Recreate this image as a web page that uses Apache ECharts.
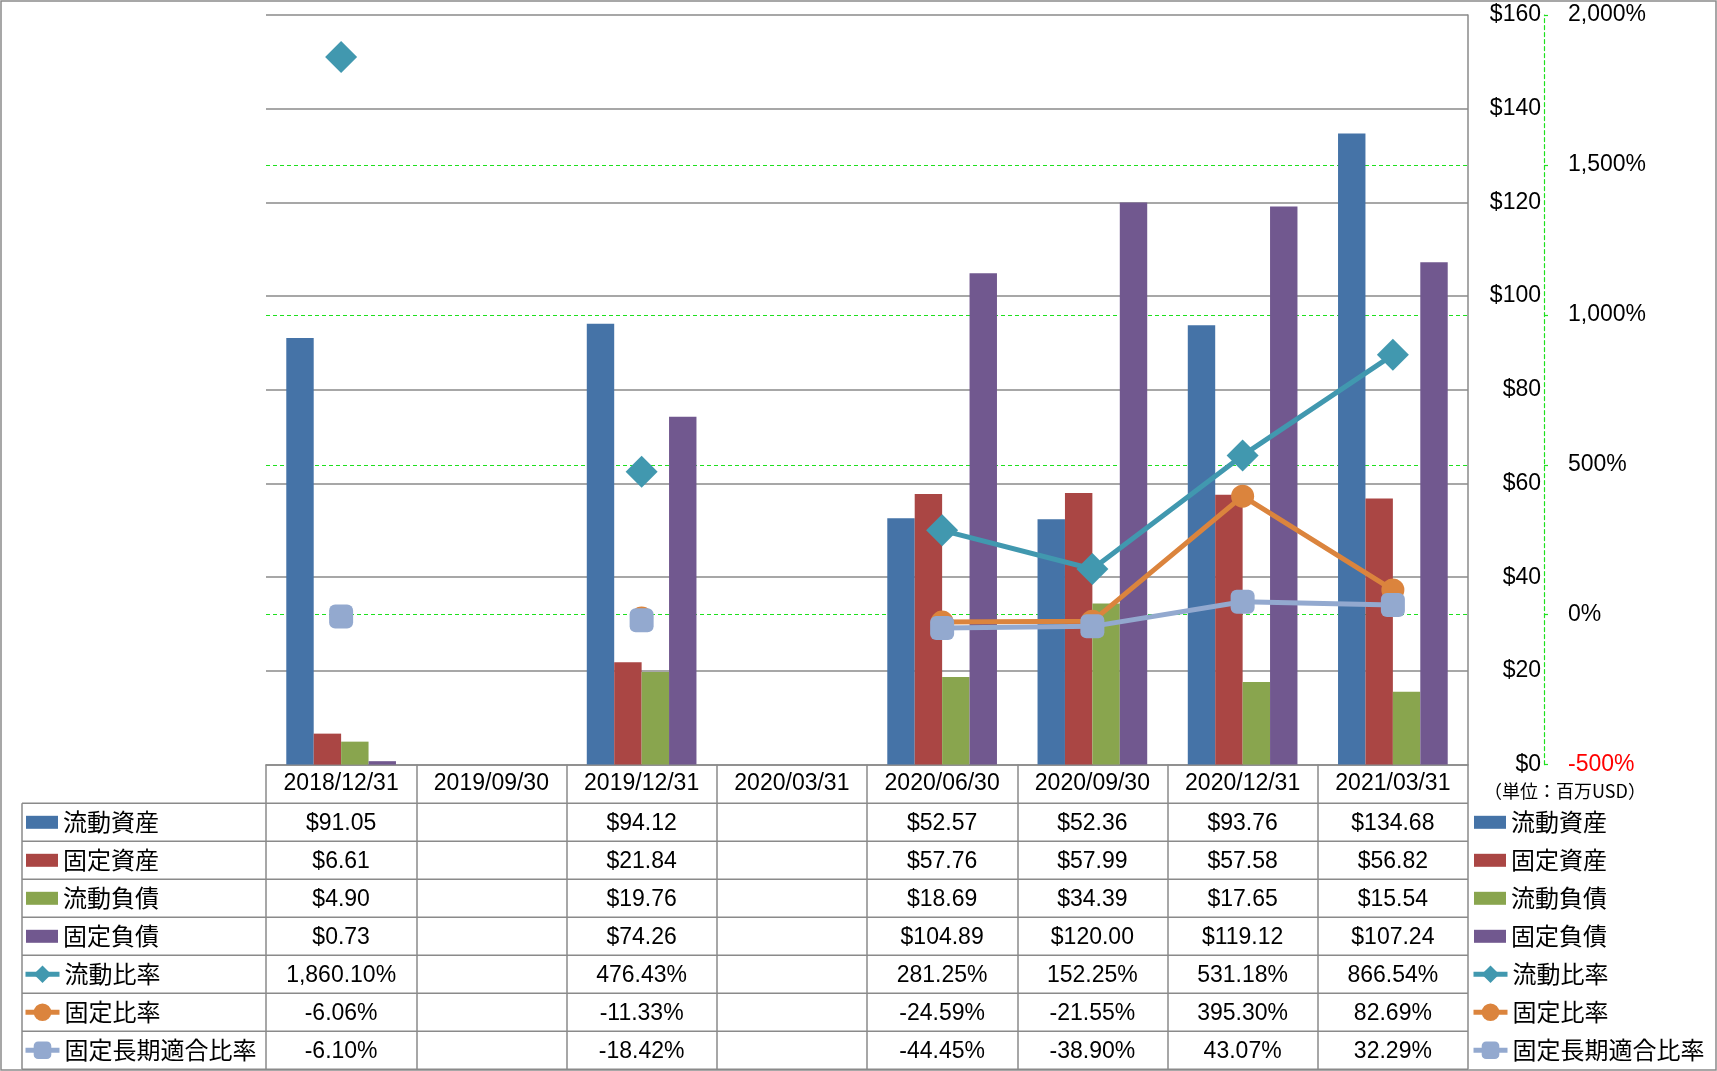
<!DOCTYPE html>
<html><head><meta charset="utf-8">
<script src="https://cdn.jsdelivr.net/npm/echarts@6/dist/echarts.min.js"></script>
<style>html,body{margin:0;padding:0;background:#fff}#c{width:1717px;height:1071px}</style>
</head><body><div id="c"></div>
<script>
const categories = ['2018/12/31','2019/09/30','2019/12/31','2020/03/31','2020/06/30','2020/09/30','2020/12/31','2021/03/31'];
const currentAssets      = [91.05, null, 94.12, null, 52.57, 52.36, 93.76, 134.68];
const fixedAssets        = [6.61, null, 21.84, null, 57.76, 57.99, 57.58, 56.82];
const currentLiabilities = [4.90, null, 19.76, null, 18.69, 34.39, 17.65, 15.54];
const fixedLiabilities   = [0.73, null, 74.26, null, 104.89, 120.00, 119.12, 107.24];
const currentRatio       = [1860.10, null, 476.43, null, 281.25, 152.25, 531.18, 866.54];
const fixedRatio         = [-6.06, null, -11.33, null, -24.59, -21.55, 395.30, 82.69];
const fixedLongTermRatio = [-6.10, null, -18.42, null, -44.45, -38.90, 43.07, 32.29];
const barNames  = ['流動資産','固定資産','流動負債','固定負債'];
const lineNames = ['流動比率','固定比率','固定長期適合比率'];
const unitText = '（単位：百万USD）';

const NUM_FONT = '"Liberation Sans", Arial, sans-serif';
const CJK_FONT = '"Noto Sans CJK JP", sans-serif';
const GRAY = '#8a8a8a';
const GREEN = '#1ee01e';
const GL = 266, GT = 15, GW = 1202, GH = 749.6;
const GB = GT + GH;
const HEADER_H = 38.7, ROW_H = 38, TABLE_LEFT = 22;
const TABLE_BOTTOM = GB + HEADER_H + ROW_H * 7;
const NUM_SIZE = 23;

const chart = echarts.init(document.getElementById('c'), null, {renderer: 'canvas'});

function legendCfg(names, left, top, iw, ih, icon) {
  const l = {
    data: names, orient: 'vertical', left: left, top: top,
    itemWidth: iw, itemHeight: ih, itemGap: 0, padding: 0, selectedMode: false,
    textStyle: {fontFamily: CJK_FONT, fontSize: 24, color: '#000', lineHeight: 38}
  };
  if (icon) l.icon = icon; else l.lineStyle = {width: 5};
  return l;
}
const fmtMoney = v => '$' + v.toLocaleString('en-US', {minimumFractionDigits: 2, maximumFractionDigits: 2});
const fmtPct = v => v.toLocaleString('en-US', {minimumFractionDigits: 2, maximumFractionDigits: 2}) + '%';

const barColors = ['#4573A7', '#AA4644', '#89A54E', '#71588F'];
const lineColors = ['#4198AF', '#DB843D', '#93A9CF'];
const barData = [currentAssets, fixedAssets, currentLiabilities, fixedLiabilities];
const lineData = [currentRatio, fixedRatio, fixedLongTermRatio];
const lineSymbols = ['diamond', 'circle', 'roundRect'];
const lineSymbolSizes = [32, 23, 24];

const series = [];
barNames.forEach((n, i) => series.push({
  name: n, type: 'bar', yAxisIndex: 0, data: barData[i],
  barGap: '0%', barCategoryGap: '27%', itemStyle: {color: barColors[i]}
}));
lineNames.forEach((n, i) => series.push({
  name: n, type: 'line', yAxisIndex: 1, data: lineData[i],
  symbol: lineSymbols[i], symbolSize: lineSymbolSizes[i], connectNulls: false,
  lineStyle: {width: 5, color: lineColors[i]}, itemStyle: {color: lineColors[i]}
}));

chart.setOption({
  animation: false,
  backgroundColor: '#fff',
  grid: {left: GL, top: GT, width: GW, height: GH, containLabel: false},
  legend: [
    legendCfg(barNames, 26, GB + HEADER_H, 32, 13, 'rect'),
    legendCfg(lineNames, 23, GB + HEADER_H + ROW_H * 4, 34, 22),
    legendCfg(barNames, 1474, GB + HEADER_H, 32, 13, 'rect'),
    legendCfg(lineNames, 1471, GB + HEADER_H + ROW_H * 4, 34, 22)
  ],
  xAxis: {
    type: 'category', data: categories, boundaryGap: true,
    axisLine: {lineStyle: {color: GRAY, width: 1.5}},
    axisTick: {show: true, interval: 0, alignWithLabel: false, length: TABLE_BOTTOM - GB, lineStyle: {color: GRAY, width: 1.5}},
    axisLabel: {interval: 0, margin: 7, fontFamily: NUM_FONT, fontSize: NUM_SIZE, lineHeight: 24, color: '#000'},
    splitLine: {show: false}
  },
  yAxis: [
    {
      type: 'value', position: 'right', min: 0, max: 160, interval: 20,
      axisLine: {show: true, lineStyle: {color: GRAY, width: 1.5}},
      axisTick: {show: false},
      axisLabel: {align: 'right', margin: 73, fontFamily: NUM_FONT, fontSize: NUM_SIZE, color: '#000', formatter: v => '$' + v},
      splitLine: {show: true, lineStyle: {color: GRAY, width: 1.5}}
    },
    {
      type: 'value', position: 'right', offset: 76, min: -500, max: 2000, interval: 500,
      axisLine: {show: true, lineStyle: {color: GREEN, width: 1.2, type: [4, 3]}},
      axisTick: {show: true, inside: false, length: 4, lineStyle: {color: GREEN, width: 1.2}},
      axisLabel: {margin: 24, fontFamily: NUM_FONT, fontSize: NUM_SIZE,
        color: v => Number(v) < 0 ? '#ff0000' : '#000',
        formatter: v => v.toLocaleString('en-US') + '%'},
      splitLine: {show: true, showMinLine: false, showMaxLine: false, lineStyle: {color: GREEN, width: 1.2, type: [4, 3]}}
    }
  ],
  series: series
});

// data table drawn from the arrays, columns positioned by the category axis
const graphics = [];
const tableRows = [
  ...barData.map(arr => arr.map(v => v == null ? '' : fmtMoney(v))),
  ...lineData.map(arr => arr.map(v => v == null ? '' : fmtPct(v)))
];
const firstRowTop = GB + HEADER_H;
for (let r = 0; r <= 7; r++) {
  const y = firstRowTop + r * ROW_H;
  graphics.push({type: 'line', shape: {x1: TABLE_LEFT, y1: y, x2: GL + GW, y2: y}, style: {stroke: GRAY, lineWidth: 1.5}, silent: true});
}
graphics.push({type: 'line', shape: {x1: TABLE_LEFT, y1: firstRowTop, x2: TABLE_LEFT, y2: TABLE_BOTTOM}, style: {stroke: GRAY, lineWidth: 1.5}, silent: true});
tableRows.forEach((row, r) => {
  row.forEach((txt, c) => {
    if (!txt) return;
    const x = chart.convertToPixel({xAxisIndex: 0}, categories[c]);
    graphics.push({type: 'text', x: x, y: firstRowTop + r * ROW_H + ROW_H / 2 + 1, silent: true,
      style: {text: txt, align: 'center', verticalAlign: 'middle', font: NUM_SIZE + 'px ' + NUM_FONT, fill: '#000'}});
  });
});
graphics.push({type: 'text', x: 1484, y: GB + 27, silent: true,
  style: {text: unitText, align: 'left', verticalAlign: 'middle', font: '18px ' + CJK_FONT, fill: '#000'}});
graphics.push({type: 'rect', shape: {x: 1, y: 1, width: 1715, height: 1069}, style: {fill: 'none', stroke: GRAY, lineWidth: 1.5}, silent: true, z: -1});
chart.setOption({graphic: graphics});
</script>
</body></html>
